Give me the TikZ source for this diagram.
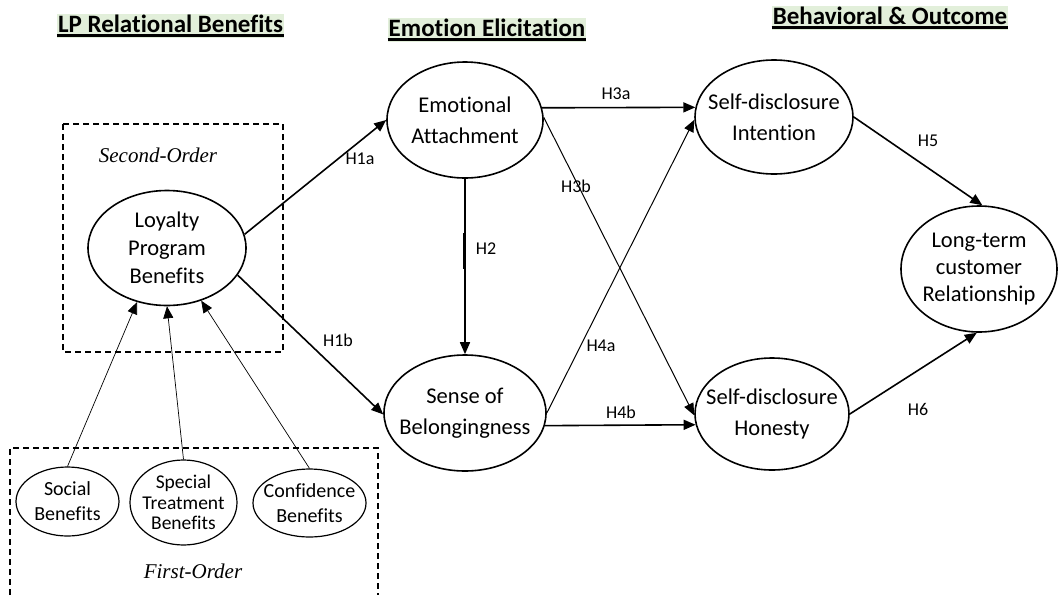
\documentclass[tikz,border=0pt]{standalone}
\usepackage{fontspec}
\setmainfont{Carlito}[Ligatures=CommonOff]
\newfontfamily\timesfont{Liberation Serif}
\usetikzlibrary{arrows.meta,shapes.geometric,calc}
\definecolor{hdrgreen}{HTML}{E2EFDA}
\begin{document}
\begin{tikzpicture}[x=1pt,y=-1pt,
  lat/.style={ellipse,draw,line width=1.6pt,inner sep=0pt},
  sml/.style={ellipse,draw,line width=1.2pt,inner sep=0pt},
  ltext/.style={align=center,font=\fontsize{22.5}{31}\selectfont},
  stext/.style={align=center,font=\fontsize{20}{25}\selectfont},
  hyp/.style={-{Triangle[length=12pt,width=10pt]},line width=1.6pt},
  hypthin/.style={-{Triangle[length=12pt,width=10pt]},line width=1pt},
  ind/.style={-{Triangle[length=12pt,width=10pt]},line width=0.7pt},
  hlab/.style={font=\fontsize{18}{20}\selectfont},
  hdr/.style={fill=hdrgreen,font=\bfseries\fontsize{25}{27}\selectfont,inner xsep=1pt,inner ysep=1pt,text height=17.5pt,text depth=5pt,anchor=base},
  ul/.style={line width=2.2pt},
  box/.style={line width=1.2pt,dash pattern=on 6pt off 4pt},
  ordertext/.style={font=\timesfont\itshape\fontsize{21}{24}\selectfont}
]
\useasboundingbox (0,0) rectangle (1058,595);

% headers
\node[hdr] (hA) at (170.5,32) {LP Relational Benefits};
\node[hdr] (hB) at (487,36) {Emotion Elicitation};
\node[hdr] (hC) at (890,24) {Behavioral \& Outcome};
\foreach \h in {hA,hB,hC}{
  \draw[ul] ([yshift=-3.5pt]\h.base west) -- ([yshift=-3.5pt]\h.base east);
}

% dashed boxes
\draw[box] (63,124) rectangle (283,352);
\draw[box] (10,595) -- (10,448) -- (378,448) -- (378,595);
\node[ordertext] (so) at (158,155) {Second-Order};
\node[ordertext] (fo) at (193,571) {First-Order};

% constructs
\node[lat,minimum width=158pt,minimum height=115pt,
  label={[ltext,font=\fontsize{22.5}{28}\selectfont]center:Loyalty\\Program\\Benefits}] (lpb) at (167,248) {};
\node[lat,minimum width=156pt,minimum height=116pt,
  label={[ltext]center:Emotional\\Attachment}] (ea) at (465,120) {};
\node[lat,minimum width=162pt,minimum height=116pt,
  label={[ltext]center:Sense of\\Belongingness}] (sob) at (465,413) {};
\node[lat,minimum width=158pt,minimum height=114pt,
  label={[ltext]center:Self-disclosure\\Intention}] (sdi) at (774,117) {};
\node[lat,minimum width=154pt,minimum height=112pt,
  label={[ltext]center:Self-disclosure\\Honesty}] (sdh) at (772,414) {};
\node[lat,minimum width=156pt,minimum height=126pt,
  label={[ltext,font=\fontsize{22.5}{27}\selectfont]center:Long-term\\customer\\Relationship}] (ltr) at (979,269) {};

\node[sml,minimum width=103pt,minimum height=69pt,
  label={[stext]center:Social\\Benefits}] (soc) at (67.5,501.5) {};
\node[sml,minimum width=107pt,minimum height=85pt,
  label={[stext,font=\fontsize{19.5}{20.5}\selectfont]center:Special\\Treatment\\Benefits}] (spt) at (183.5,502.5) {};
\node[sml,minimum width=113pt,minimum height=68pt,
  label={[stext]center:Confidence\\Benefits}] (conf) at (309.5,503) {};

% first-order to second-order
\draw[ind] (soc.north) -- (lpb.241);
\draw[ind] (spt.north) -- (lpb.270);
\draw[ind] (conf.north) -- (lpb.303);

% hypotheses
\draw[hyp] (lpb.10) -- (ea.180);
\draw[hyp] (lpb.339) -- (sob.181);
\draw[hyp] (ea.south) -- (sob.north);
\draw[line width=3pt] ([xshift=-0.8pt]$(ea.south)!0.31!(sob.north)$) -- ([xshift=-0.8pt]$(ea.south)!0.515!(sob.north)$);
\draw[hyp] (ea.9) -- (sdi.173);
\draw[hypthin] (ea.2) -- (sdh.181);
\draw[hypthin] (sob.0) -- (sdi.182);
\draw[hyp] (sob.351) -- (sdh.188);
\draw[hyp] (sdi.0) -- (ltr.87);
\draw[hyp] (sdh.0) -- (ltr.268);

% labels
\node[hlab] (l1a) at (360,159) {H1a};
\node[hlab] (l1b) at (338,340) {H1b};
\node[hlab] (l2) at (486,249) {H2};
\node[hlab] (l3a) at (616,94) {H3a};
\node[hlab] (l3b) at (576,186) {H3b};
\node[hlab] (l4a) at (601,346) {H4a};
\node[hlab] (l4b) at (621,412) {H4b};
\node[hlab] (l5) at (928,141) {H5};
\node[hlab] (l6) at (918,409) {H6};
\end{tikzpicture}
\end{document}
